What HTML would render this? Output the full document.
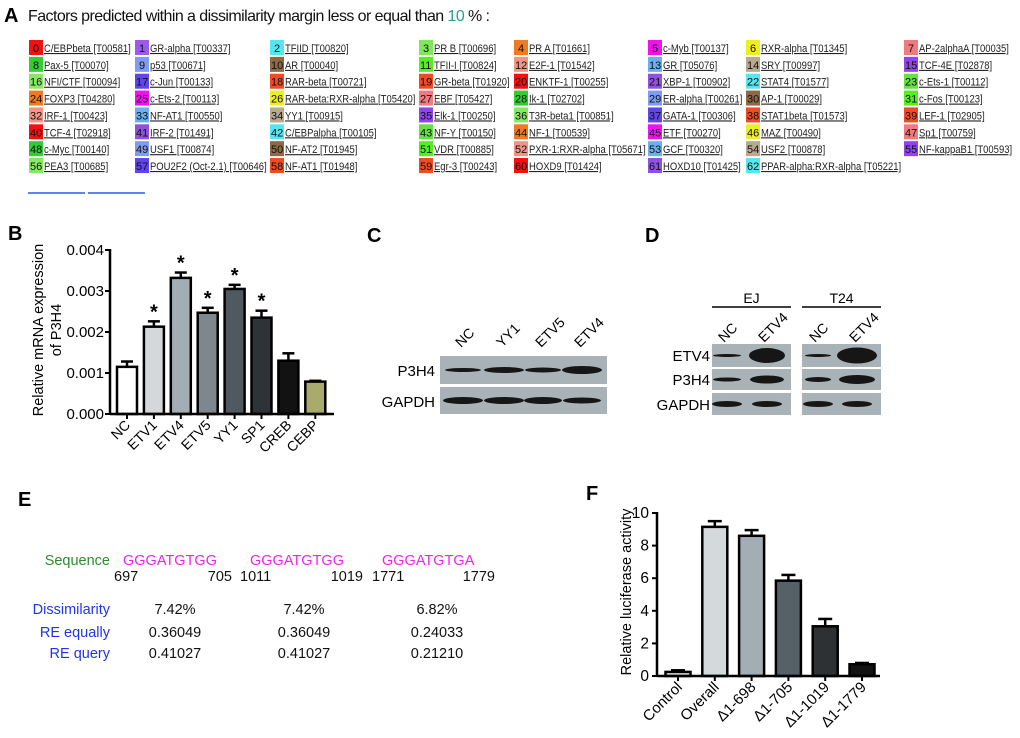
<!DOCTYPE html>
<html><head><meta charset="utf-8"><style>
body{margin:0;background:#fff}
svg{display:block;font-family:"Liberation Sans",sans-serif}
.tf{font-size:11px;fill:#222;text-decoration:underline}
.bn{font-size:11px;fill:#111}
</style></head><body>
<svg id="fig" width="1020" height="738" viewBox="0 0 1020 738">
<g>
<text x="4" y="22" font-size="20" font-weight="bold">A</text>
<text x="28" y="21" font-size="16" fill="#111" textLength="462">Factors predicted within a dissimilarity margin less or equal than <tspan fill="#2a9d8f">10</tspan> % :</text>
<g id="tfTable"></g>
<line x1="28" y1="193" x2="85" y2="193" stroke="#3355ee" stroke-width="1.5"/>
<line x1="88" y1="193" x2="145" y2="193" stroke="#3355ee" stroke-width="1.5"/>
</g>
<g id="panelB">
<text x="8" y="240" font-size="20" font-weight="bold">B</text>
</g>
<g>
<text x="367" y="242" font-size="20" font-weight="bold">C</text>
<g id="blotC"></g>
</g>
<g>
<text x="645" y="242" font-size="20" font-weight="bold">D</text>
<g id="blotD"></g>
</g>
<g font-size="14.5">
<text x="18" y="506" font-size="20" font-weight="bold">E</text>
<text x="110" y="565" text-anchor="end" fill="#2e8b2e">Sequence</text>
<text x="123" y="565" fill="#ee22ee">GGGATGTGG</text>
<text x="250" y="565" fill="#ee22ee">GGGATGTGG</text>
<text x="382" y="565" fill="#ee22ee">GGGATGTGA</text>
<g fill="#111">
<text x="114" y="581">697</text><text x="232" y="581" text-anchor="end">705</text>
<text x="240" y="581">1011</text><text x="363" y="581" text-anchor="end">1019</text>
<text x="372" y="581">1771</text><text x="495" y="581" text-anchor="end">1779</text>
</g>
<g fill="#2233ee" text-anchor="end">
<text x="110" y="614">Dissimilarity</text><text x="110" y="637">RE equally</text><text x="110" y="658">RE query</text>
</g>
<g fill="#111" text-anchor="middle">
<text x="175" y="614">7.42%</text><text x="304" y="614">7.42%</text><text x="437" y="614">6.82%</text>
<text x="175" y="637">0.36049</text><text x="304" y="637">0.36049</text><text x="437" y="637">0.24033</text>
<text x="175" y="658">0.41027</text><text x="304" y="658">0.41027</text><text x="437" y="658">0.21210</text>
</g>
</g>
<g id="panelF">
<text x="586" y="500" font-size="20" font-weight="bold">F</text>
</g>
</svg>
<script>
const NS='http://www.w3.org/2000/svg';
function mk(tag,attrs,parent,txt){const e=document.createElementNS(NS,tag);for(const k in attrs)e.setAttribute(k,attrs[k]);if(txt!==undefined)e.textContent=txt;parent.appendChild(e);return e;}

// ---------- Panel A table ----------
const tfNames=["C/EBPbeta [T00581]","GR-alpha [T00337]","TFIID [T00820]","PR B [T00696]","PR A [T01661]","c-Myb [T00137]","RXR-alpha [T01345]","AP-2alphaA [T00035]",
"Pax-5 [T00070]","p53 [T00671]","AR [T00040]","TFII-I [T00824]","E2F-1 [T01542]","GR [T05076]","SRY [T00997]","TCF-4E [T02878]",
"NFI/CTF [T00094]","c-Jun [T00133]","RAR-beta [T00721]","GR-beta [T01920]","ENKTF-1 [T00255]","XBP-1 [T00902]","STAT4 [T01577]","c-Ets-1 [T00112]",
"FOXP3 [T04280]","c-Ets-2 [T00113]","RAR-beta:RXR-alpha [T05420]","EBF [T05427]","Ik-1 [T02702]","ER-alpha [T00261]","AP-1 [T00029]","c-Fos [T00123]",
"IRF-1 [T00423]","NF-AT1 [T00550]","YY1 [T00915]","Elk-1 [T00250]","T3R-beta1 [T00851]","GATA-1 [T00306]","STAT1beta [T01573]","LEF-1 [T02905]",
"TCF-4 [T02918]","IRF-2 [T01491]","C/EBPalpha [T00105]","NF-Y [T00150]","NF-1 [T00539]","ETF [T00270]","MAZ [T00490]","Sp1 [T00759]",
"c-Myc [T00140]","USF1 [T00874]","NF-AT2 [T01945]","VDR [T00885]","PXR-1:RXR-alpha [T05671]","GCF [T00320]","USF2 [T00878]","NF-kappaB1 [T00593]",
"PEA3 [T00685]","POU2F2 (Oct-2.1) [T00646]","NF-AT1 [T01948]","Egr-3 [T00243]","HOXD9 [T01424]","HOXD10 [T01425]","PPAR-alpha:RXR-alpha [T05221]"];
const tfColors=["#f21010","#9a5be8","#55e6ef","#7ee85a","#f07a22","#f012ee","#eeee22","#f07a80",
"#33cc33","#7f9cf0","#8b6a45","#55ee22","#f09585","#6ab0f0","#b8aa90","#9044f0",
"#88e866","#6244ee","#f24a22","#f24a22","#f21010","#9050e0","#55e6ef","#66e044",
"#f07a22","#f012ee","#eeee22","#f07a80","#33cc33","#7f9cf0","#8b6a45","#55ee22",
"#f09585","#6ab0f0","#b8aa90","#9044f0","#88e866","#6244ee","#f24a22","#f24a22",
"#f21010","#9050e0","#55e6ef","#66e044","#f07a22","#f012ee","#eeee22","#f07a80",
"#33cc33","#7f9cf0","#8b6a45","#55ee22","#f09585","#6ab0f0","#b8aa90","#9044f0",
"#88e866","#6244ee","#f24a22","#f24a22","#f21010","#9050e0","#55e6ef"];
const tfColX=[29,135,270,419,514,648,746,904];
const tbl=document.getElementById('tfTable');
tfNames.forEach((n,i)=>{
  const c=i%8,r=Math.floor(i/8);
  const x=tfColX[c],y=40+r*16.86;
  const g=mk('g',{},tbl);
  
  
  mk('rect',{x:x,y:y,width:14,height:15,fill:tfColors[i]},g);
  mk('text',{x:x+(i<10?4:1),y:y+12,class:'bn'},g,String(i));
  const t=mk('text',{x:x+15,y:y+12,class:'tf'},g,n);
  const L=t.getComputedTextLength();
  if(L>0){t.setAttribute('textLength',(L*0.86).toFixed(1));t.setAttribute('lengthAdjust','spacingAndGlyphs');}
});

// ---------- Panel B ----------
const bCats=["NC","ETV1","ETV4","ETV5","YY1","SP1","CREB","CEBP"];
const bVals=[0.00115,0.00213,0.00332,0.00247,0.00305,0.00235,0.0013,0.00079];
const bErr=[0.00013,0.00013,0.00013,0.00012,0.0001,0.00017,0.00018,0.00002];
const bSig=[false,true,true,true,true,true,false,false];
const bTicks=[0,0.001,0.002,0.003,0.004];
const bTickLabels=["0.000","0.001","0.002","0.003","0.004"];
const bFills=["#ffffff","#d4d8da","#a3adb4","#7d878d","#4f595f","#2e3337","#121212","#a8ab6c"];
(function(){
  const P=document.getElementById('panelB');
  const ax=110,y0=414,yT=250,x0=127,dx=26.9,bw=20;
  const ys=v=>y0-(v/0.004)*(y0-yT), xs=i=>x0+i*dx;
  bCats.forEach((c,i)=>{
    const yv=ys(bVals[i]),ye=ys(bVals[i]+bErr[i]);
    const g=mk('g',{},P);
    
    
    mk('line',{x1:xs(i),y1:yv,x2:xs(i),y2:ye,stroke:'#000','stroke-width':2.5},g);
    mk('line',{x1:xs(i)-6,y1:ye,x2:xs(i)+6,y2:ye,stroke:'#000','stroke-width':2.5},g);
    mk('rect',{x:xs(i)-bw/2,y:yv,width:bw,height:y0-yv,fill:bFills[i],stroke:'#000','stroke-width':2.5},g);
    if(bSig[i]){const s=mk('text',{x:xs(i),y:ye-3,'text-anchor':'middle','font-size':20,'font-weight':'bold'},P,'*');
      
      }
    mk('line',{x1:xs(i),y1:y0,x2:xs(i),y2:y0+5,stroke:'#000','stroke-width':2},P);
    const t=mk('text',{x:xs(i)+4,y:y0+12,'text-anchor':'end','font-size':14,transform:`rotate(-45 ${xs(i)+4} ${y0+12})`},P,c);
    
    
  });
  mk('line',{x1:ax,y1:yT-1,x2:ax,y2:y0+1,stroke:'#000','stroke-width':2.5},P);
  mk('line',{x1:ax,y1:y0,x2:334,y2:y0,stroke:'#000','stroke-width':2.5},P);
  bTicks.forEach((v,i)=>{
    mk('line',{x1:ax-5,y1:ys(v),x2:ax,y2:ys(v),stroke:'#000','stroke-width':2},P);
    const t=mk('text',{x:ax-6,y:ys(v)+5,'text-anchor':'end','font-size':15},P,bTickLabels[i]);
    
    
  });
  const yt=mk('text',{x:0,y:0,'text-anchor':'middle','font-size':14.5,transform:'translate(43 330) rotate(-90)'},P);
  
  
  mk('tspan',{x:0,dy:0},yt,'Relative mRNA expression');
  mk('tspan',{x:0,dy:18},yt,'of P3H4');
})();

// ---------- Panel F ----------
const fCats=["Control","Overall","Δ1-698","Δ1-705","Δ1-1019","Δ1-1779"];
const fVals=[0.25,9.15,8.6,5.85,3.05,0.72];
const fErr=[0.1,0.35,0.35,0.35,0.45,0.08];
const fTicks=[0,2,4,6,8,10];
const fFills=["#e6e8e8","#d3dadc","#a3adb4","#566167","#2d3134","#121212"];
(function(){
  const P=document.getElementById('panelF');
  const ax=657,y0=676,yT=513,x0=678,dx=36.8,bw=25;
  const ys=v=>y0-(v/10)*(y0-yT), xs=i=>x0+i*dx;
  fCats.forEach((c,i)=>{
    const yv=ys(fVals[i]),ye=ys(fVals[i]+fErr[i]);
    const g=mk('g',{},P);
    
    
    mk('line',{x1:xs(i),y1:yv,x2:xs(i),y2:ye,stroke:'#000','stroke-width':2.5},g);
    mk('line',{x1:xs(i)-7,y1:ye,x2:xs(i)+7,y2:ye,stroke:'#000','stroke-width':2.5},g);
    mk('rect',{x:xs(i)-bw/2,y:yv,width:bw,height:y0-yv,fill:fFills[i],stroke:'#000','stroke-width':2.5},g);
    mk('line',{x1:xs(i),y1:y0,x2:xs(i),y2:y0+5,stroke:'#000','stroke-width':2},P);
    const t=mk('text',{x:xs(i)+5,y:y0+12,'text-anchor':'end','font-size':15,transform:`rotate(-45 ${xs(i)+5} ${y0+12})`},P,c);
    
    
  });
  mk('line',{x1:ax,y1:yT-1,x2:ax,y2:y0+1,stroke:'#000','stroke-width':2.5},P);
  mk('line',{x1:ax,y1:y0,x2:880,y2:y0,stroke:'#000','stroke-width':2.5},P);
  fTicks.forEach(v=>{
    mk('line',{x1:ax-5,y1:ys(v),x2:ax,y2:ys(v),stroke:'#000','stroke-width':2},P);
    const t=mk('text',{x:ax-8,y:ys(v)+5,'text-anchor':'end','font-size':15.5},P,String(v));
    
    
  });
  const yt=mk('text',{x:0,y:0,'text-anchor':'middle','font-size':14.5,transform:'translate(631 592) rotate(-90)'},P,'Relative luciferase activity');
  
  
})();

// ---------- Blots ----------
function blot(parent,x,y,w,h,bands){
  mk('rect',{x:x,y:y,width:w,height:h,fill:'#a9b3b7'},parent);
  bands.forEach(b=>mk('ellipse',{cx:b[0],cy:y+h/2,rx:b[1]/2,ry:b[2]/2,fill:'#161616'},parent));
}
(function(){
  const C=document.getElementById('blotC');
  const lanes=[463,504,543,582];
  ["NC","YY1","ETV5","ETV4"].forEach((l,i)=>{
    const t=mk('text',{x:lanes[i]-2,y:348,'font-size':14,transform:`rotate(-45 ${lanes[i]-2} 348)`},C,l);
    
    
  });
  blot(C,440,356,167,28,[[463,36,4],[504,40,6],[543,36,5],[582,40,8]]);
  blot(C,440,387,167,27,[[463,40,7],[504,40,7],[543,38,7],[582,38,6]]);
  [["P3H4",376],["GAPDH",407]].forEach(a=>{const t=mk('text',{x:435,y:a[1],'text-anchor':'end','font-size':15},C,a[0]);
    
    });

  const D=document.getElementById('blotD');
  const dl=[[728,"NC"],[768,"ETV4"],[819,"NC"],[859,"ETV4"]];
  dl.forEach(a=>{const t=mk('text',{x:a[0]-4,y:343,'font-size':14,transform:`rotate(-45 ${a[0]-4} 343)`},D,a[1]);
    
    });
  [[712,791,"EJ"],[802,881,"T24"]].forEach(a=>{
    mk('line',{x1:a[0],y1:307,x2:a[1],y2:307,stroke:'#000','stroke-width':1.5},D);
    const t=mk('text',{x:(a[0]+a[1])/2,y:303,'text-anchor':'middle','font-size':14},D,a[2]);
    
    
  });
  blot(D,712,344,79,23,[[727,28,3],[767,36,15]]);
  blot(D,802,344,79,23,[[818,26,3],[857,40,16]]);
  blot(D,712,369,79,21,[[727,28,4],[767,34,8]]);
  blot(D,802,369,79,21,[[818,26,5],[857,36,9]]);
  blot(D,712,393,79,22,[[727,30,6],[767,30,6]]);
  blot(D,802,393,79,22,[[818,30,6],[857,30,6]]);
  [["ETV4",361],["P3H4",385],["GAPDH",410]].forEach(a=>{const t=mk('text',{x:710,y:a[1],'text-anchor':'end','font-size':15},D,a[0]);
    
    });
})();
</script>
</body></html>
